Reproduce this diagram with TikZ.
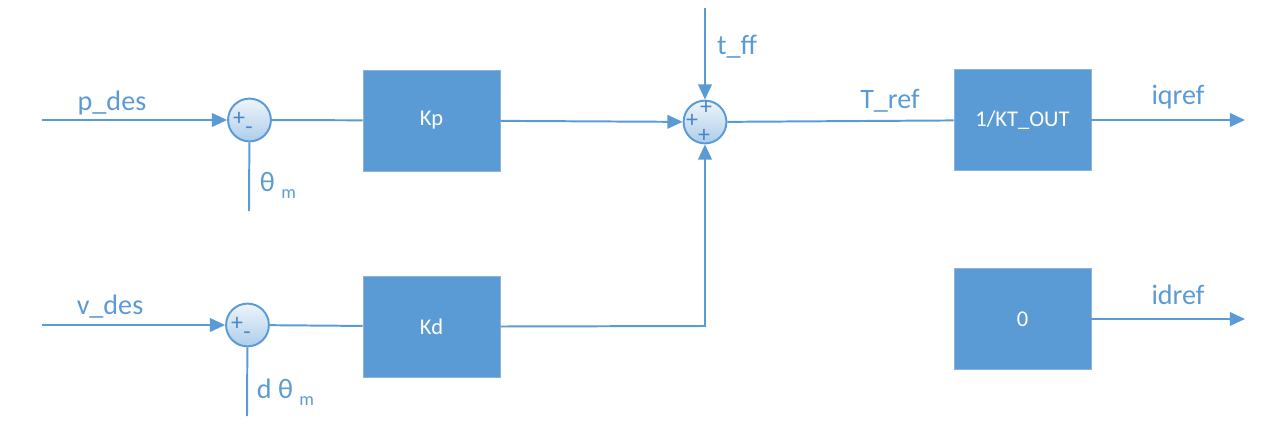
\documentclass[tikz,border=0pt]{standalone}
\usepackage{fontspec}
\setmainfont{Carlito}
\usetikzlibrary{arrows.meta}
\definecolor{lineblue}{HTML}{5B9BD5}
\definecolor{boxedge}{HTML}{8CB3E0}
\definecolor{signblue}{HTML}{4A86C5}
\tikzset{
  wire/.style={lineblue, line width=1.4pt},
  sig/.style={wire, -{Triangle[length=0.38cm,width=0.34cm]}},
  block/.style={rectangle, fill=lineblue, draw=boxedge, line width=0.6pt,
    minimum width=3.425cm, minimum height=2.525cm, text=white,
    font=\fontsize{16}{19}\selectfont},
  sumnode/.style={circle, minimum size=1.07cm, inner sep=0pt, draw=lineblue,
    line width=1.4pt, top color=lineblue!10, bottom color=lineblue!50},
  lbl/.style={text=lineblue, font=\fontsize{20}{24}\selectfont},
  sign/.style={text=signblue, inner sep=0pt, font=\fontsize{17}{17}\selectfont}
}
\newcommand{\subm}{{\fontsize{13}{13}\selectfont\raisebox{-5pt}{m}}}
\begin{document}
\begin{tikzpicture}[x=0.025cm, y=-0.025cm]
    \useasboundingbox (0,0) rectangle (1267,446);
    % inputs
    \coordinate (pin) at (42,120);
    \coordinate (vin) at (42,325);
    \coordinate (thm) at (249,211);
    \coordinate (dthm) at (247,416);
    \coordinate (tff) at (705,8);
    \coordinate (iq) at (1245,120);
    \coordinate (id) at (1245,319);
    \coordinate (kdturn) at (705,326);
    % summing junctions
    \node[sumnode] (s1) at (249.5,120) {};
    \node[sumnode] (s2) at (247.5,325) {};
    \node[sumnode] (s3) at (705,122) {};
    \node[sign] (s1p) at (239,119) {+};
    \node[sign] (s1m) at (249,131) {-};
    \node[sign] (s2p) at (237,324) {+};
    \node[sign] (s2m) at (247,336) {-};
    \node[sign] (s3l) at (692,121) {+};
    \node[sign] (s3t) at (706,108) {+};
    \node[sign] (s3b) at (704,136) {+};
    % blocks
    \node[block] (kp) at (431.5,120.5) {Kp};
    \node[block] (kd) at (431.5,326.5) {Kd};
    \node[block] (kt) at (1022.5,120) {1/KT\_OUT};
    \node[block] (zero) at (1022.5,319) {0};
    % labels
    \node[lbl] (lp) at (112,103) {p\_des};
    \node[lbl] (lv) at (110,307) {v\_des};
    \node[lbl, anchor=west] (lth) at (255,185) {θ \subm};
    \node[lbl, anchor=west] (ldth) at (252,392) {d θ \subm};
    \node[lbl] (lff) at (737,47) {t\_ff};
    \node[lbl] (ltr) at (890,101) {T\_ref};
    \node[lbl] (liq) at (1178,97) {iqref};
    \node[lbl] (lid) at (1178,295) {idref};
    % position loop
    \draw[sig] (pin) -- (s1);
    \draw[wire] (thm) -- (s1);
    \draw[wire] (s1) -- (kp);
    \draw[sig] (kp) -- (s3);
    % velocity loop
    \draw[sig] (vin) -- (s2);
    \draw[wire] (dthm) -- (s2);
    \draw[wire] (s2) -- (kd);
    \draw[sig] (kd.east) -- (kdturn) -- (s3);
    % torque
    \draw[sig] (tff) -- (s3);
    \draw[wire] (s3) -- (kt);
    \draw[sig] (kt) -- (iq);
    \draw[sig] (zero.east |- id) -- (id);
\end{tikzpicture}
\end{document}
